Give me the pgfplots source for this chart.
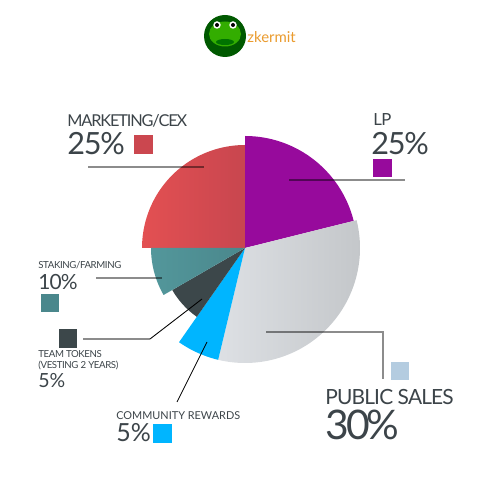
\documentclass[border=0pt]{standalone}
\usepackage{pgfplots}
\pgfplotsset{compat=1.18}
\usepackage{fontspec}
\setmainfont{Lato}
\newfontfamily\latoT[LetterSpace=-7]{Lato}
\newfontfamily\latoS[LetterSpace=-4]{Lato}
\definecolor{txt}{HTML}{3C4449}
\definecolor{redL}{HTML}{E35052}
\definecolor{redR}{HTML}{C8464F}
\definecolor{lp}{HTML}{970A9C}
\definecolor{psL}{HTML}{DDE0E4}
\definecolor{psR}{HTML}{C4C7CA}
\definecolor{comm}{HTML}{00B5FF}
\definecolor{team}{HTML}{3C474A}
\definecolor{stL}{HTML}{53979B}
\definecolor{stR}{HTML}{4A878C}
\definecolor{pssq}{HTML}{B4CCE0}
\definecolor{orng}{HTML}{EA9B2E}
\begin{document}
\begin{tikzpicture}
\path[use as bounding box] (0,0) rectangle (10cm,10cm);
\begin{axis}[at={(0,0)},anchor=south west,width=10cm,height=10cm,scale only axis,hide axis,
  xmin=-245,xmax=255,ymin=-252,ymax=248,clip=false]
% pie slices: (start angle, end angle, radius)
\addplot[data cs=polar,domain=90:180,samples=60,draw=none,left color=redL,right color=redR] (x,103) -- (axis cs:0,0) -- cycle;
\addplot[data cs=polar,domain=14:90,samples=60,draw=none,fill=lp] (x,112) -- (axis cs:0,0) -- cycle;
\addplot[data cs=polar,domain=-103.5:14,samples=80,draw=none,left color=psL,right color=psR] (x,115) -- (axis cs:0,0) -- cycle;
\addplot[data cs=polar,domain=-125:-103.5,samples=20,draw=none,fill=comm] (x,115) -- (axis cs:0,0) -- cycle;
\addplot[data cs=polar,domain=-150:-125,samples=20,draw=none,fill=team] (x,84) -- (axis cs:0,0) -- cycle;
\addplot[data cs=polar,domain=-180:-150,samples=20,draw=none,left color=stL,right color=stR] (x,94) -- (axis cs:0,0) -- cycle;
% leader lines
\addplot[black,opacity=0.45,line width=1.1pt] coordinates {(-157,81) (-41,81)};
\addplot[black,opacity=0.45,line width=1.1pt] coordinates {(44,68) (160,68)};
\addplot[black,opacity=0.45,line width=1.1pt] coordinates {(-149,-30) (-83,-30)};
\addplot[black,opacity=0.45,line width=1.1pt] coordinates {(-162,-91) (-95,-91)};
\addplot[black,line width=0.5pt] coordinates {(-95,-91) (-43,-51)};
\addplot[black,line width=0.5pt] coordinates {(-68,-154) (-38,-94)};
\addplot[black,opacity=0.45,line width=1.1pt] coordinates {(21,-84) (138,-84) (138,-131)};
% legend squares
\addplot[only marks,mark=square*,mark size=5.1pt,color=redR!90!redL] coordinates {(-102,104)};
\addplot[only marks,mark=square*,mark size=5.0pt,color=lp] coordinates {(137.5,80)};
\addplot[only marks,mark=square*,mark size=4.8pt,color=stR] coordinates {(-195.5,-54.5)};
\addplot[only marks,mark=square*,mark size=5.0pt,color=team] coordinates {(-177,-90.5)};
\addplot[only marks,mark=square*,mark size=5.1pt,color=comm] coordinates {(-83,-185)};
\addplot[only marks,mark=square*,mark size=4.8pt,color=pssq] coordinates {(154.5,-122.5)};
% labels
\node[anchor=base west,inner sep=0,text=txt,font=\latoT\fontsize{9.3}{10}\selectfont] at (axis cs:-178,121) {MARKETING/CEX};
\node[anchor=base west,inner sep=0,text=txt,font=\latoS\fontsize{17.4}{18}\selectfont] at (axis cs:-178,93) {25\%};
\node[anchor=base west,inner sep=0,text=txt,font=\latoS\fontsize{9.5}{10}\selectfont] at (axis cs:128,122) {LP};
\node[anchor=base west,inner sep=0,text=txt,font=\latoS\fontsize{17.4}{18}\selectfont] at (axis cs:126,93) {25\%};
\node[anchor=base west,inner sep=0,text=txt,font=\latoS\fontsize{5.5}{6}\selectfont] at (axis cs:-207,-21) {STAKING/FARMING};
\node[anchor=base west,inner sep=0,text=txt,font=\latoS\fontsize{11.9}{12}\selectfont] at (axis cs:-207,-42) {10\%};
\node[anchor=base west,inner sep=0,text=txt,font=\latoS\fontsize{5.5}{6}\selectfont] at (axis cs:-207,-110) {TEAM TOKENS};
\node[anchor=base west,inner sep=0,text=txt,font=\latoS\fontsize{5.5}{6}\selectfont] at (axis cs:-207,-121) {(VESTING 2 YEARS)};
\node[anchor=base west,inner sep=0,text=txt,font=\fontsize{11.1}{12}\selectfont] at (axis cs:-207,-140) {5\%};
\node[anchor=base west,inner sep=0,text=txt,font=\fontsize{6.2}{6}\selectfont] at (axis cs:-129,-172) {COMMUNITY REWARDS};
\node[anchor=base west,inner sep=0,text=txt,font=\fontsize{14.2}{15}\selectfont] at (axis cs:-129,-194) {5\%};
\node[anchor=base west,inner sep=0,text=txt,font=\latoS\fontsize{11.9}{12}\selectfont] at (axis cs:80,-157) {PUBLIC SALES};
\node[anchor=base west,inner sep=0,text=txt,font=\latoT\fontsize{23.2}{24}\selectfont] at (axis cs:80,-192) {30\%};
% logo
\fill[green!35!black] (axis cs:-20,212) circle[radius=0.42cm];
\fill[green!60!black!80!yellow] (axis cs:-20,214) ellipse[x radius=0.32cm,y radius=0.25cm];
\fill[green!45!black] (axis cs:-20,206) ellipse[x radius=0.18cm,y radius=0.06cm];
\fill[white] (axis cs:-28,223) circle[radius=0.075cm];
\fill[white] (axis cs:-12,223) circle[radius=0.075cm];
\fill[black] (axis cs:-28,223) circle[radius=0.04cm];
\fill[black] (axis cs:-12,223) circle[radius=0.04cm];
\node[anchor=base west,inner sep=0,text=orng,font=\fontsize{8.5}{9}\selectfont] at (axis cs:2,205) {zkermit};
\end{axis}
\end{tikzpicture}
\end{document}
